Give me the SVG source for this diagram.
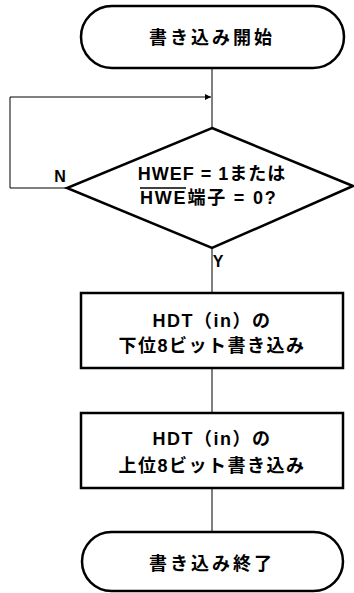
<svg xmlns="http://www.w3.org/2000/svg" width="354" height="593" viewBox="0 0 354 593">
<style>
.s{fill:#fff;stroke:#000;stroke-width:2.5}
.c{fill:none;stroke:#000;stroke-width:1}
text{font-family:"Liberation Sans","Noto Sans CJK JP",sans-serif;font-size:18px;font-weight:bold;fill:#000;text-anchor:middle}
</style>
<defs>
<marker id="ar" viewBox="0 0 10 10" refX="10" refY="5" markerWidth="9" markerHeight="6" orient="auto" markerUnits="userSpaceOnUse">
<path d="M0,0 L10,5 L0,10 z" fill="#000"/>
</marker>
</defs>
<g id="connectors">
<line class="c" x1="212" y1="68" x2="212" y2="128"/>
<polyline class="c" points="67,188 10,188 10,97 211,97" marker-end="url(#ar)"/>
<line class="c" x1="212" y1="248" x2="212" y2="293"/>
<line class="c" x1="212" y1="368" x2="212" y2="413"/>
<line class="c" x1="212" y1="488" x2="212" y2="532"/>
<text x="60" y="182" style="font-size:16px">N</text>
<text x="218" y="267" style="font-size:16px">Y</text>
</g>
<g id="start">
<rect class="s" x="81" y="6" width="263" height="62" rx="31"/>
<text x="212" y="44" letter-spacing="3">書き込み開始</text>
</g>
<g id="decision">
<polygon class="s" points="212,128 353,186 212,248 67,188"/>
<text x="212" y="180" letter-spacing="1">HWEF = 1または</text>
<text x="140" y="204" letter-spacing="1.8" style="text-anchor:start">HWE端子 = 0?</text>
<line x1="140" y1="188" x2="186" y2="188" stroke="#000" stroke-width="1.5"/>
</g>
<g id="low">
<rect class="s" x="81" y="293" width="262" height="75"/>
<text x="212" y="327" letter-spacing="1.5">HDT（in）の</text>
<text x="212" y="352" letter-spacing="1.5">下位8ビット書き込み</text>
</g>
<g id="high">
<rect class="s" x="81" y="413" width="262" height="75"/>
<text x="212" y="445" letter-spacing="1.5">HDT（in）の</text>
<text x="212" y="472" letter-spacing="1.5">上位8ビット書き込み</text>
</g>
<g id="end">
<rect class="s" x="82" y="532" width="261" height="59" rx="29.5"/>
<text x="212" y="570" letter-spacing="3">書き込み終了</text>
</g>
</svg>
